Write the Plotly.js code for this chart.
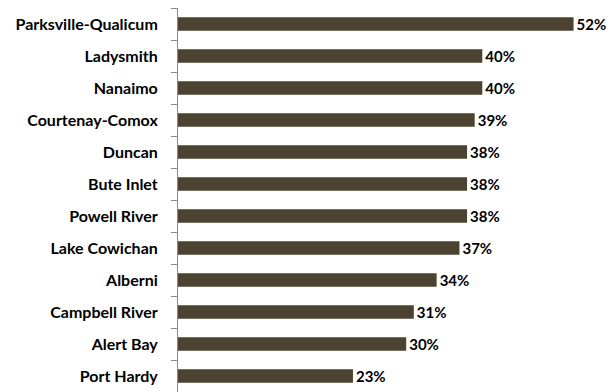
<!DOCTYPE html>
<html><head><meta charset="utf-8">
<script src="https://cdn.plot.ly/plotly-3.0.1.min.js"></script>
<style>html,body{margin:0;padding:0;background:#fff}#c{width:610px;height:392px}</style>
</head><body><div id="c"></div>
<script>
const categories = ["Parksville-Qualicum","Ladysmith","Nanaimo","Courtenay-Comox","Duncan","Bute Inlet","Powell River","Lake Cowichan","Alberni","Campbell River","Alert Bay","Port Hardy"];
const values = [52,40,40,39,38,38,38,37,34,31,30,23];
const labels = values.map(v => v + "%");
const tickLabels = categories.map(c => c + "\u2003\u2005");

Plotly.newPlot("c", [{
  type: "bar", orientation: "h",
  y: categories, x: values,
  text: labels, textposition: "outside", cliponaxis: false, constraintext: "none",
  textfont: {family: "Lato, sans-serif", size: 15, color: "#000", weight: "bold"},
  marker: {color: "#4b4330", line: {width: 0}},
  hoverinfo: "none"
}], {
  width: 610, height: 392,
  margin: {l: 178, r: 6, t: 8, b: 0, pad: 0},
  paper_bgcolor: "#fff", plot_bgcolor: "#fff",
  bargap: 0.58,
  showlegend: false,
  xaxis: {range: [0, 56], showticklabels: false, showgrid: false, zeroline: false, showline: false, ticks: "", fixedrange: true},
  yaxis: {
    autorange: "reversed", showline: true, linecolor: "#898989", linewidth: 1,
    tickmode: "array", tickvals: categories, ticktext: tickLabels,
    ticks: "outside", tickson: "boundaries", ticklen: 6, tickcolor: "#898989", tickwidth: 1,
    tickfont: {family: "Lato, sans-serif", size: 16, color: "#000", weight: "bold"},
    showgrid: false, zeroline: false
  }
}, {displayModeBar: false, staticPlot: true});
</script></body></html>
